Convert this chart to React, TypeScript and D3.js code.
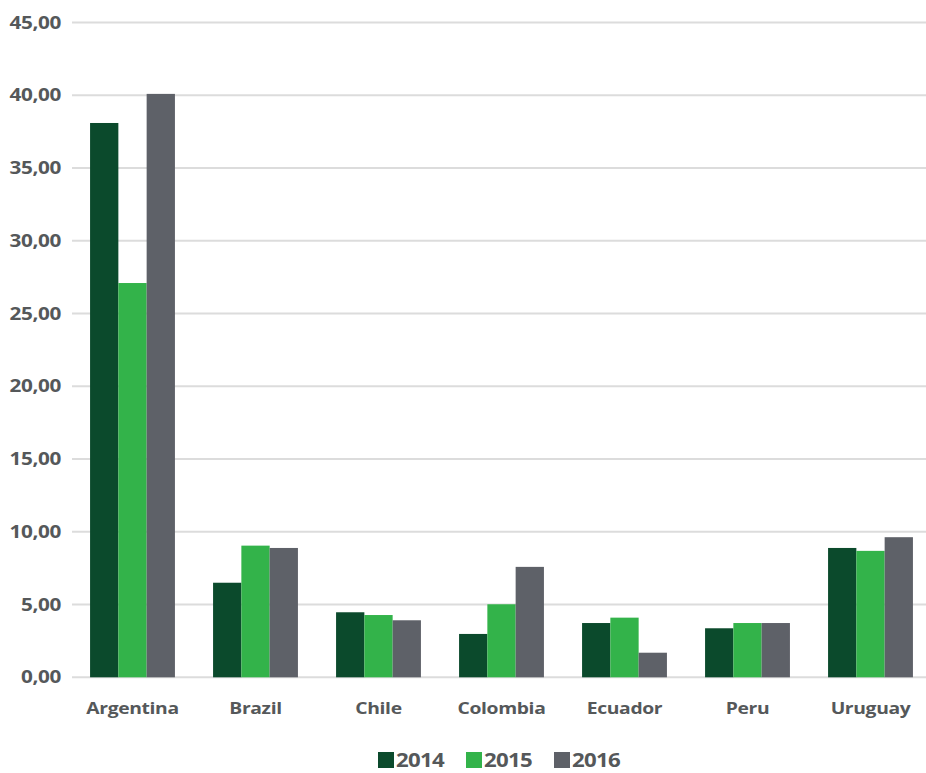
import React from "react";
import * as d3 from "d3";

const categories = ["Argentina", "Brazil", "Chile", "Colombia", "Ecuador", "Peru", "Uruguay"];
const seriesNames = ["2014", "2015", "2016"];
const values2014 = [38.1, 6.5, 4.47, 2.98, 3.73, 3.37, 8.89];
const values2015 = [27.1, 9.05, 4.28, 5.02, 4.1, 3.73, 8.69];
const values2016 = [40.1, 8.89, 3.92, 7.59, 1.69, 3.73, 9.63];
const yTicks = [0, 5, 10, 15, 20, 25, 30, 35, 40, 45];
const colors = ["#0b4a2c", "#33b34a", "#5e6168"];

const W = 926;
const H = 773;

export default function App() {
  const series = [values2014, values2015, values2016];
  const y = d3.scaleLinear().domain([0, 45]).range([677.3, 22.6]);
  const x0 = d3.scaleBand<string>().domain(categories).range([71, 932]).paddingInner(0.31).paddingOuter(0.155);
  const x1 = d3.scaleBand<string>().domain(seriesNames).range([0, x0.bandwidth()]).padding(0);
  const fmt = (v: number) => d3.format(".2f")(v).replace(".", ",");
  const font = "'Open Sans', sans-serif";
  const textColor = "#55585a";

  const legendX = d3.scaleBand<string>().domain(seriesNames).range([378, 642]);

  return (
    <svg width={W} height={H} style={{ position: "absolute", left: 0, top: 0, background: "#fff" }}>
      <rect x={0} y={0} width={W} height={H} fill="#fff" />
      {yTicks.map((t) => (
        <g key={t}>
          <line x1={72} x2={W} y1={y(t)} y2={y(t)} stroke="#dcdcdc" strokeWidth={2} />
          <text
            transform={`translate(61,${y(t)}) scale(1.22,1)`}
            dy="0.36em"
            textAnchor="end"
            fontFamily={font}
            fontSize={17}
            fontWeight={700}
            letterSpacing={-0.3}
            fill={textColor}
          >
            {fmt(t)}
          </text>
        </g>
      ))}
      {categories.map((c, i) => (
        <g key={c} transform={`translate(${x0(c)},0)`}>
          {seriesNames.map((s, j) => (
            <rect
              key={s}
              x={x1(s)!}
              y={y(series[j][i])}
              width={x1.bandwidth()}
              height={y(0) - y(series[j][i])}
              fill={colors[j]}
            />
          ))}
          <text
            transform={`translate(${x0.bandwidth() / 2},708) scale(1.17,1)`}
            dy="0.36em"
            textAnchor="middle"
            fontFamily={font}
            fontSize={16.5}
            fontWeight={700}
            letterSpacing={-0.3}
            fill={textColor}
          >
            {c}
          </text>
        </g>
      ))}
      {seriesNames.map((s, j) => (
        <g key={s} transform={`translate(${legendX(s)!},0)`}>
          <rect x={0} y={752} width={16} height={16} fill={colors[j]} />
          <text
            transform="translate(18,760) scale(1.17,1)"
            dy="0.36em"
            fontFamily={font}
            fontSize={19}
            fontWeight={700}
            letterSpacing={-0.6}
            fill={textColor}
          >
            {s}
          </text>
        </g>
      ))}
    </svg>
  );
}
